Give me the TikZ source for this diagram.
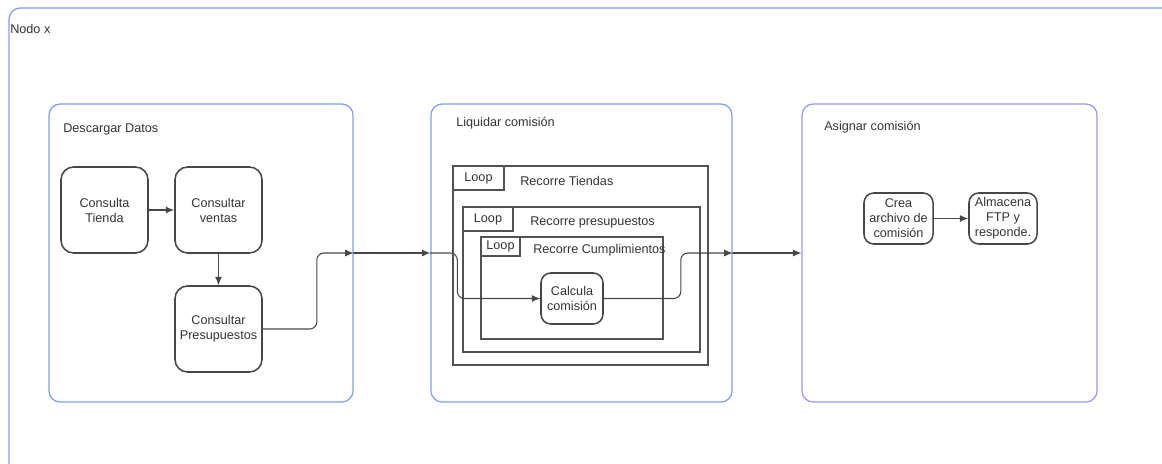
\documentclass[tikz,border=0pt]{standalone}
\usepackage{fontspec}
\setmainfont{Liberation Sans}
\usetikzlibrary{arrows,arrows.meta,positioning}
\definecolor{frameblue}{RGB}{122,158,250}
\definecolor{framelilac}{RGB}{150,150,250}
\definecolor{ink}{RGB}{51,51,51}
\begin{document}
\begin{tikzpicture}[x=0.025cm,y=-0.025cm,>={Latex[length=6pt,width=5pt]},line cap=round,
		every node/.style={font=\fontsize{9}{10.7}\selectfont,text=ink,inner sep=0pt,align=center},
		group/.style={draw=frameblue,line width=0.9pt,rounded corners=8,minimum width=7.6cm,minimum height=7.45cm},
		task/.style={draw=ink!90,line width=1.1pt,rounded corners=9,minimum width=2.175cm,minimum height=2.15cm},
		smalltask/.style={draw=ink!90,line width=1.1pt,rounded corners=7,minimum height=1.275cm},
		loopframe/.style={draw=ink!85,line width=1pt},
		flow/.style={->,draw=ink!90,line width=0.75pt,rounded corners=5}]
			\useasboundingbox (0,0) rectangle (1162,463);
			% outer frame, cut off at the right and bottom
			\draw[frameblue,line width=0.9pt,rounded corners=8] (9,490) -- (9,8) -- (1190,8);
			\node[anchor=west] (nodox) at (10,29) {Nodo x};
			% the three groups
			\node[group] (descargar) at (201,253) {};
			\node[group,minimum width=7.525cm] (liquidar) at (581.5,253) {};
			\node[group,draw=framelilac,minimum width=7.375cm] (asignar) at (949.5,253) {};
			\node[anchor=west] at (63,129) {Descargar Datos};
			\node[anchor=west] at (456,123) {Liquidar comisión};
			\node[anchor=west] at (824,127) {Asignar comisión};
			% Descargar Datos
			\node[task] (tienda) at (104.5,210) {Consulta\\Tienda};
			\node[task] (ventas) at (218.5,210) {Consultar\\ventas};
			\node[task] (presupuestos) at (218.5,329) {Consultar\\Presupuestos};
			\draw[flow] (tienda) -- (ventas);
			\draw[flow] (ventas) -- (presupuestos);
			\draw[flow] (presupuestos.east) -- ++(54,0) |- (descargar.east);
			\draw[flow] (descargar.east) -- (liquidar.west);
			% Liquidar comision: nested loops
			\foreach \n/\cx/\cy/\w/\h/\tw/\th/\lx/\ly/\txt in {
				tiendas/580.5/265.5/6.375/4.975/1.275/0.6/520/181/Recorre Tiendas,
				presup/581.5/279.5/5.925/3.625/1.25/0.6/530/222/Recorre presupuestos,
				cumpl/572/288/4.55/2.55/0.975/0.475/533/250/Recorre Cumplimientos}{
				\node[loopframe,minimum width=\w cm,minimum height=\h cm] (\n) at (\cx,\cy) {};
				\node[loopframe,anchor=north west,minimum width=\tw cm,minimum height=\th cm] (\n tag) at (\n.north west) {Loop};
				\node[anchor=west] (\n label) at (\lx,\ly) {\txt};
			}
			\node[smalltask,minimum width=1.55cm] (calcula) at (572,298.5) {Calcula\\comisión};
			\draw[flow] (liquidar.west) -- ++(27,0) |- (calcula.west);
			\draw[flow] (calcula.east) -- ++(77,0) |- (liquidar.east);
			\draw[flow] (liquidar.east) -- (asignar.west);
			% Asignar comision
			\node[smalltask,minimum width=1.725cm] (crea) at (898.5,218.5) {Crea\\archivo de\\comisión};
			\node[smalltask,minimum width=1.7cm] (almacena) at (1003,218.5) {Almacena\\FTP y\\responde.};
			\draw[flow] (crea) -- (almacena);
		\end{tikzpicture}
\end{document}
